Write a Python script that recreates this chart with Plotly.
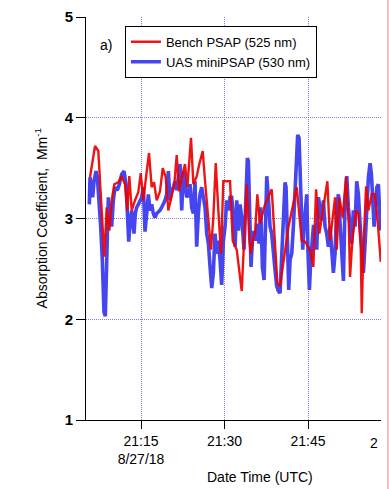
import pandas as pd
import plotly.graph_objects as go

BASE = pd.Timestamp("2018-08-27 21:00:00")

# Bench PSAP (525 nm): minutes after 21:00 UTC and absorption coefficient (Mm^-1)
bench_min = [5.84, 6.74, 7.33, 7.76, 8.12, 8.41, 8.84, 9.31, 9.74, 10.20, 10.92, 11.53, 12.13, 12.54,
             12.90, 13.33, 13.92, 14.51, 14.95, 15.41, 15.90, 16.44, 16.92, 17.34, 17.82, 18.41, 18.90,
             19.44, 19.90, 20.52, 20.98, 21.41, 21.83, 22.31, 22.90, 23.32, 23.98, 24.40, 25.01, 25.47,
             26.08, 26.50, 27.09, 27.57, 27.99, 28.42, 28.89, 29.37, 29.78, 30.40, 30.99, 31.47, 32.19,
             33.09, 33.99, 34.46, 34.71, 35.17, 35.48, 35.89, 36.38, 37.27, 37.87, 38.48, 38.89, 39.49,
             39.97, 40.69, 41.46, 42.97, 43.38, 43.87, 44.46, 45.36, 45.95, 46.44, 47.03, 48.47, 48.95,
             49.85, 50.15, 50.62, 51.23, 51.82, 52.31, 52.54, 52.95, 53.62, 54.03, 54.46, 54.64, 54.93,
             55.42, 55.83, 56.44, 57.03, 57.52, 58.06]
bench_abs = [3.41, 3.72, 3.67, 3.24, 2.85, 2.62, 3.11, 2.88, 3.18, 3.34, 3.36, 3.42, 3.34, 3.08,
             3.42, 3.08, 3.18, 3.26, 3.45, 3.18, 3.41, 3.65, 3.31, 3.36, 3.18, 3.27, 3.50,
             3.41, 3.08, 3.24, 3.34, 3.63, 3.27, 3.41, 3.54, 3.31, 3.80, 3.34, 3.42, 3.54,
             3.67, 3.37, 2.98, 2.69, 3.01, 3.55, 3.08, 2.65, 3.37, 3.37, 3.37, 2.78, 2.69,
             2.28, 3.34, 2.78, 2.65, 2.81, 2.85, 3.24, 2.95, 3.14, 3.21, 3.29, 2.91, 2.36,
             2.33, 2.62, 2.91, 3.31, 3.05, 2.78, 2.77, 2.69, 2.52, 3.29, 2.85, 3.37, 2.78,
             3.21, 2.69, 3.21, 3.01, 3.41, 2.95, 2.42, 2.78, 3.08, 3.05, 2.72, 2.06, 2.69,
             3.32, 3.08, 3.24, 3.24, 2.96, 2.57]

# UAS miniPSAP (530 nm)
uas_min = [5.72, 5.84, 6.02, 6.32, 6.56, 6.92, 7.16, 7.51, 7.76, 8.05, 8.23, 8.35, 8.59, 8.71, 8.95,
           9.13, 9.43, 9.73, 10.03, 10.33, 10.75, 11.11, 11.53, 11.95, 12.31, 12.54, 12.79, 13.02,
           13.32, 13.50, 13.74, 13.98, 14.22, 14.52, 14.82, 15.12, 15.42, 15.72, 16.02, 16.32, 16.62,
           16.92, 17.21, 17.51, 17.81, 18.11, 18.41, 18.71, 19.01, 19.31, 19.61, 19.91, 20.21, 20.51,
           20.81, 21.11, 21.41, 21.71, 22.01, 22.31, 22.60, 22.90, 23.20, 23.50, 23.80, 24.10, 24.40,
           24.70, 25.00, 25.30, 25.60, 25.90, 26.20, 26.50, 26.80, 27.10, 27.40, 27.70, 27.99, 28.29,
           28.59, 28.89, 29.19, 29.49, 29.79, 30.09, 30.39, 30.69, 30.99, 31.29, 31.59, 31.89, 32.19,
           32.48, 32.78, 33.08, 33.50, 33.86, 34.10, 34.28, 34.58, 34.76, 35.06, 35.30, 35.66, 35.90,
           36.20, 36.50, 36.80, 37.10, 37.40, 37.58, 37.87, 38.17, 38.47, 38.77, 39.07, 39.37, 39.67,
           39.97, 40.27, 40.57, 40.87, 41.05, 41.29, 41.53, 41.77, 42.07, 42.36, 42.66, 42.96, 43.14,
           43.38, 43.56, 43.74, 44.04, 44.28, 44.52, 44.76, 45.00, 45.24, 45.48, 45.78, 45.96, 46.26,
           46.56, 46.86, 47.16, 47.46, 47.75, 48.05, 48.35, 48.65, 48.95, 49.25, 49.55, 49.85, 50.15,
           50.45, 50.75, 51.05, 51.35, 51.65, 51.95, 52.24, 52.54, 52.84, 53.14, 53.44, 53.74, 54.04,
           54.34, 54.64, 54.94, 55.24, 55.54, 55.84, 56.14, 56.38, 56.62, 56.86, 57.10, 57.34, 57.63,
           57.93, 58.05]
uas_abs = [3.14, 3.41, 3.34, 3.21, 3.37, 3.47, 3.41, 3.18, 2.92, 2.59, 2.33, 2.07, 2.03, 2.39, 2.92,
           3.21, 3.05, 2.92, 3.18, 3.31, 3.28, 3.34, 3.44, 3.47, 3.34, 2.95, 2.77, 2.95,
           3.08, 2.98, 2.85, 3.05, 3.11, 3.14, 3.18, 3.21, 3.31, 2.87, 3.05, 3.24, 3.08,
           3.14, 3.05, 3.01, 3.05, 3.06, 3.08, 3.11, 3.14, 3.18, 3.24, 3.47, 3.18, 3.28,
           3.31, 3.37, 3.28, 3.44, 3.54, 3.08, 3.47, 3.34, 3.21, 3.24, 3.34, 3.11, 3.05,
           3.37, 2.72, 3.05, 3.24, 3.31, 3.18, 3.11, 2.85, 2.75, 2.52, 2.31, 2.46, 2.85,
           2.65, 2.78, 2.59, 2.34, 2.78, 2.92, 3.18, 3.08, 3.21, 3.21, 3.01, 2.72, 3.18,
           2.88, 3.14, 3.01, 2.69, 3.34, 3.60, 3.57, 2.85, 2.52, 2.85, 2.87, 2.78, 2.95,
           2.75, 3.11, 2.52, 2.39, 3.01, 3.42, 3.21, 2.92, 2.85, 2.62, 2.49, 2.33, 2.28,
           2.26, 2.65, 3.05, 3.36, 3.31, 2.82, 2.29, 2.59, 2.65, 2.92, 3.34, 3.54, 3.83,
           3.80, 3.41, 3.08, 2.69, 2.92, 3.08, 3.24, 2.65, 2.29, 2.59, 2.78, 2.92, 2.92,
           2.69, 3.21, 3.11, 2.98, 3.18, 2.92, 2.85, 2.72, 2.92, 2.72, 2.46, 2.65, 3.11,
           3.24, 2.98, 2.69, 2.38, 3.18, 3.42, 3.11, 2.92, 2.75, 3.08, 2.92, 3.37, 3.24,
           2.95, 2.69, 2.46, 2.75, 3.11, 3.41, 3.55, 3.44, 3.18, 2.92, 3.08, 3.31, 3.34,
           3.01, 2.88]

x_tick_min = [15, 30, 45]
x_tick_text = ["21:15<br>8/27/18", "21:30", "21:45"]
x_range_min = [5.12, 58.1]
y_ticks = [1, 2, 3, 4, 5]
y_range = [1, 5]


def to_time(mins):
    return [BASE + pd.Timedelta(minutes=m) for m in mins]


FONT = "Liberation Sans, Arial, Helvetica, sans-serif"
GRID = "#7f7fe0"

fig = go.Figure()
fig.add_trace(go.Scatter(x=to_time(uas_min), y=uas_abs, mode="lines", name="UAS miniPSAP (530 nm)",
                         line=dict(color="#4646f0", width=3.6), legendrank=2))
fig.add_trace(go.Scatter(x=to_time(bench_min), y=bench_abs, mode="lines", name="Bench PSAP (525 nm)",
                         line=dict(color="rgba(238,0,0,0.92)", width=2.4), legendrank=1))

fig.update_layout(
    width=389, height=489,
    margin=dict(l=86, r=8, t=15, b=69),
    paper_bgcolor="white", plot_bgcolor="white",
    font=dict(family=FONT, size=14, color="black"),
    showlegend=True,
    legend=dict(x=0.132, y=0.978, xanchor="left", yanchor="top",
                bordercolor="black", borderwidth=1, bgcolor="white",
                font=dict(size=13), tracegroupgap=0, itemwidth=30),
    xaxis=dict(range=to_time(x_range_min), tickvals=to_time(x_tick_min), ticktext=x_tick_text,
               ticks="outside", ticklen=8, tickcolor="black", tickwidth=1,
               showline=True, linecolor="black", linewidth=1,
               showgrid=True, gridcolor=GRID, griddash="1px,1px", gridwidth=1,
               zeroline=False, tickfont=dict(size=14)),
    yaxis=dict(range=y_range, tickvals=y_ticks,
               ticks="outside", ticklen=9, tickcolor="black", tickwidth=1,
               showline=True, linecolor="black", linewidth=1,
               showgrid=True, gridcolor=GRID, griddash="1px,1px", gridwidth=1,
               zeroline=False, tickfont=dict(size=15, weight="bold")),
)

fig.add_annotation(text="a)", xref="paper", yref="paper", x=0.04, y=0.956,
                   showarrow=False, font=dict(size=14))
fig.add_annotation(text="Date Time (UTC)", xref="paper", yref="paper", x=0.59, y=-0.141,
                   showarrow=False, font=dict(size=14), yanchor="middle")
fig.add_annotation(text="Absorption Coefficient,&nbsp; Mm<sup>-1</sup>", xref="paper", yref="paper",
                   x=-0.19, y=0.5, textangle=-90, showarrow=False, font=dict(size=14))
fig.add_annotation(text="2", xref="paper", yref="paper", x=0.9966, y=-0.057,
                   showarrow=False, font=dict(size=14), yanchor="middle")
fig.add_shape(type="line", xref="paper", yref="paper", x0=1.0237, x1=1.0237, y0=-0.2, y1=1.1,
              line=dict(color="rgba(238,150,150,0.8)", width=1.5))

fig.write_html("out.html")
